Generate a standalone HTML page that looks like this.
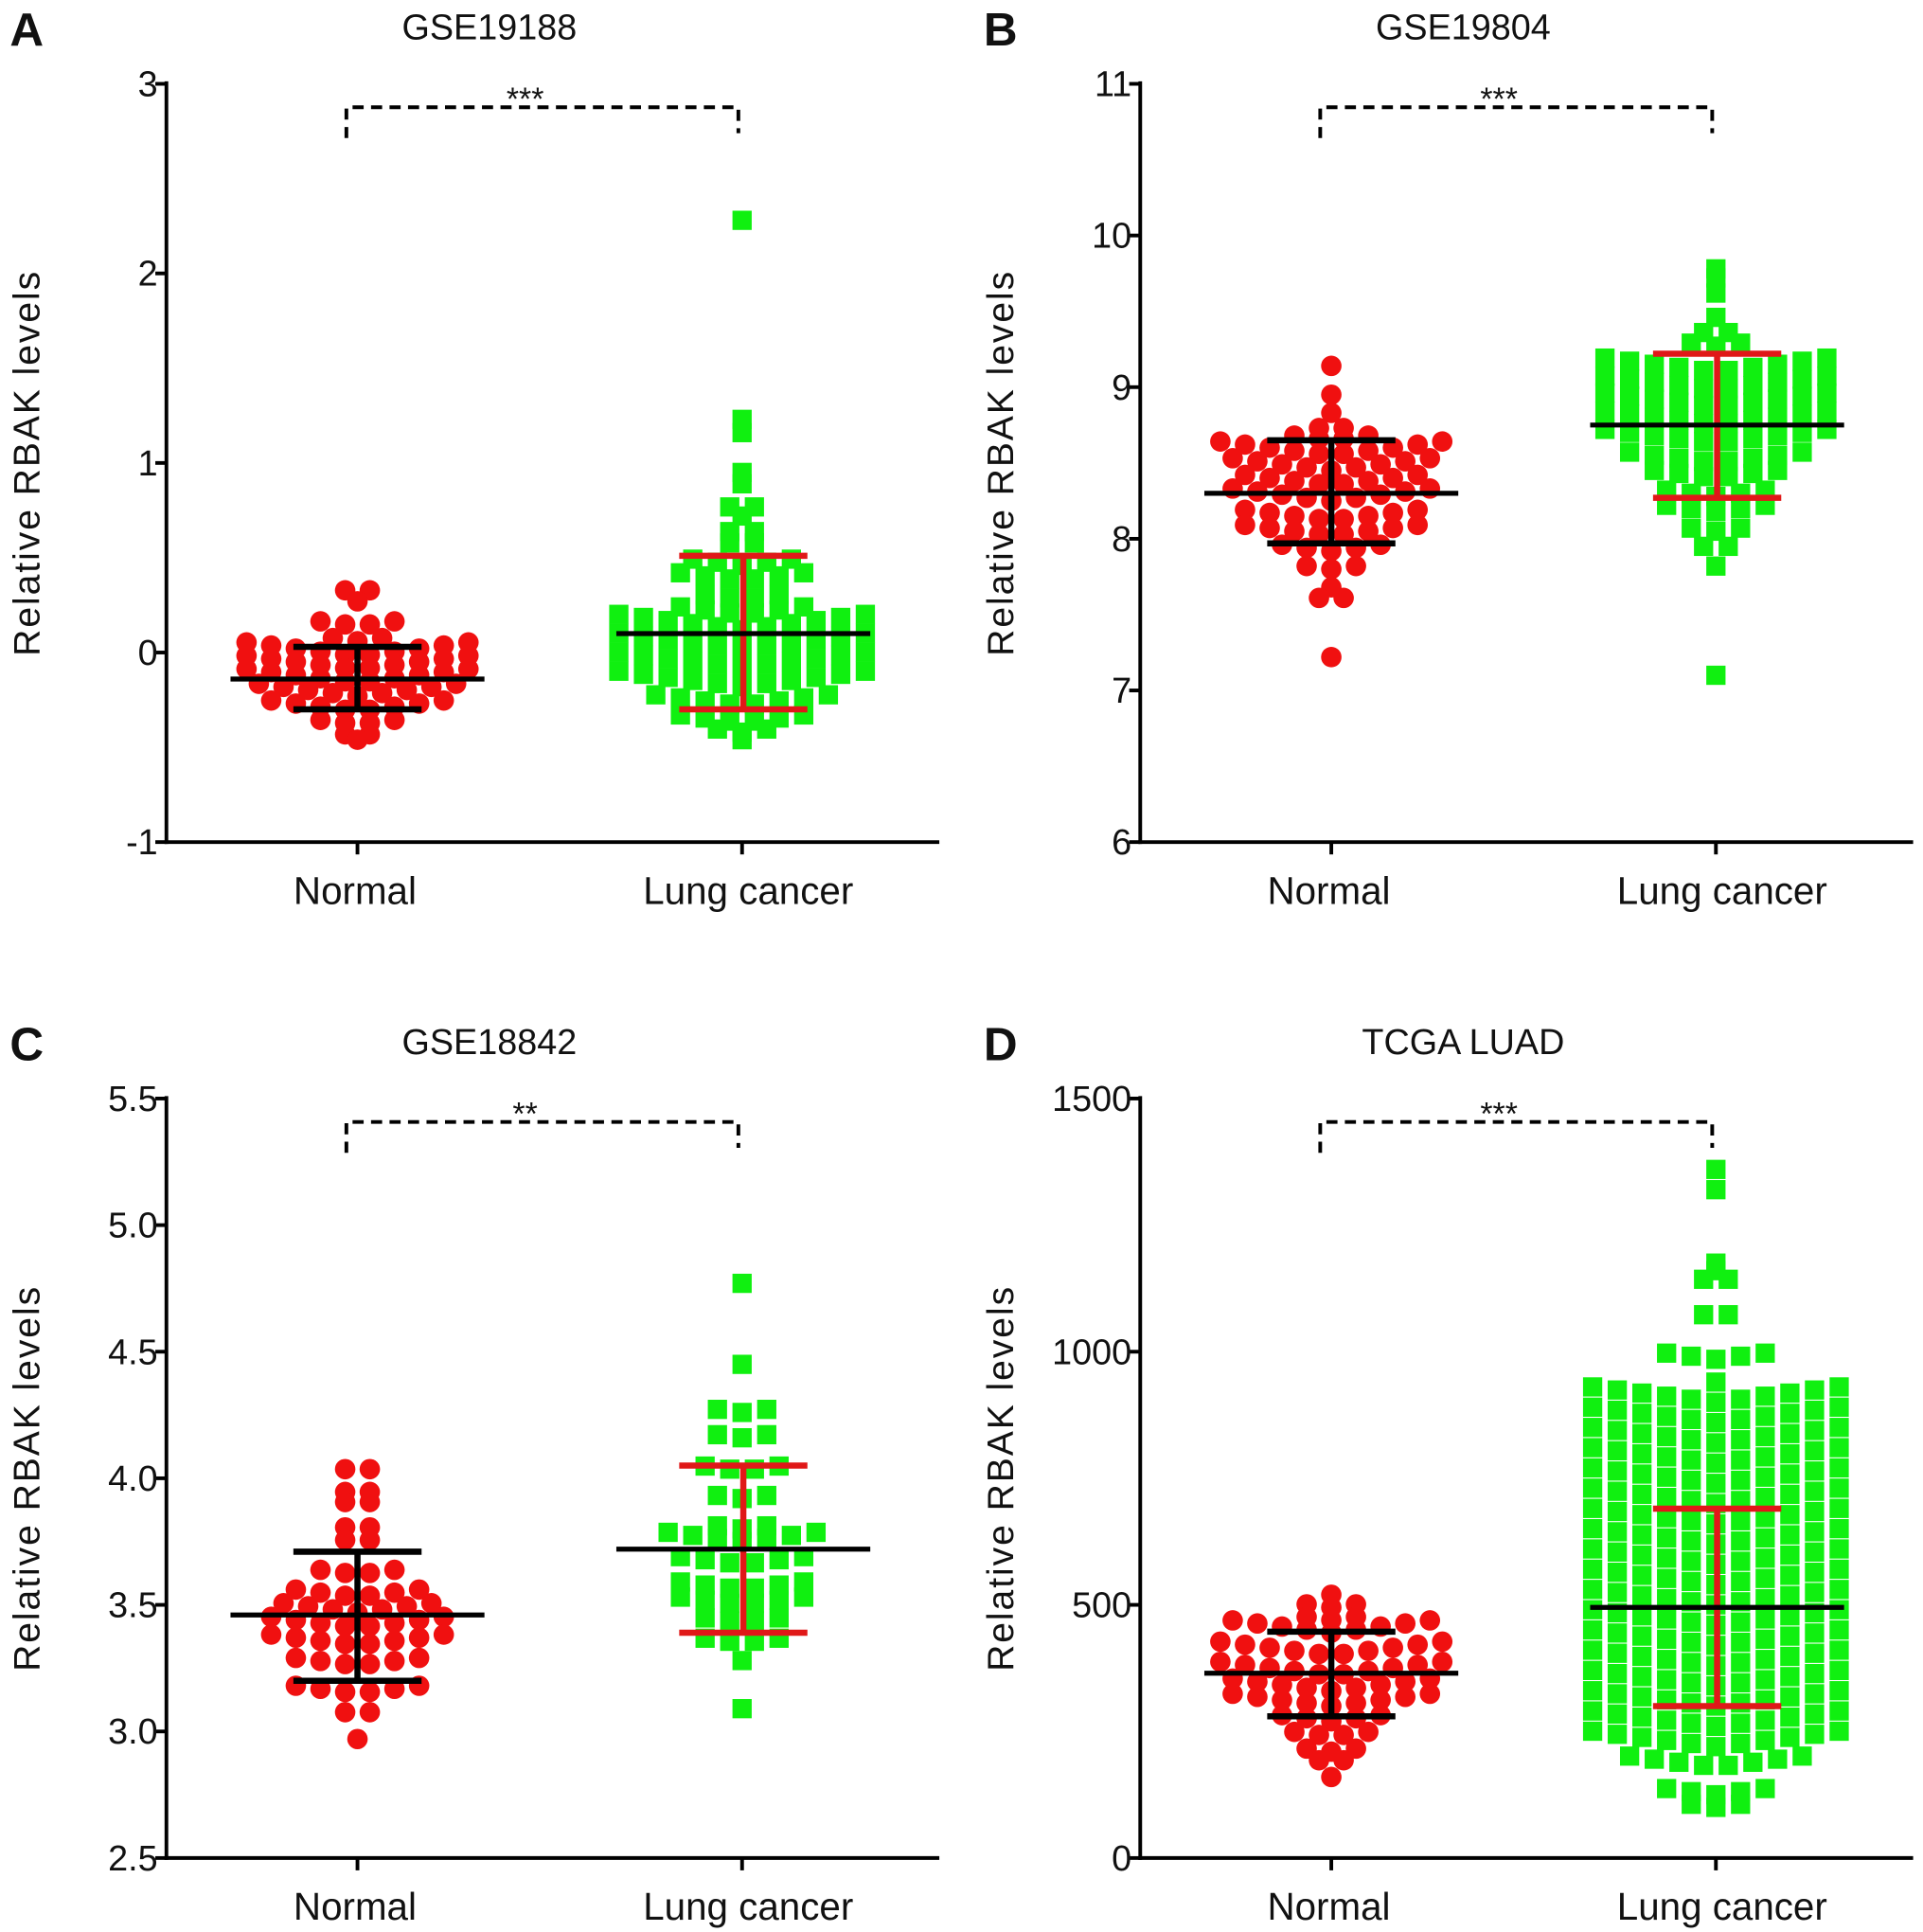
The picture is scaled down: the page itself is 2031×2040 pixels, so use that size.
<!DOCTYPE html>
<html><head><meta charset="utf-8"><style>
html,body{margin:0;padding:0;background:#fff}
svg{display:block}
text{font-family:"Liberation Sans",Arial,sans-serif;fill:#111}
</style></head><body>
<svg id="fig" width="2031" height="2040" viewBox="0 0 1560 1567" preserveAspectRatio="none" xmlns="http://www.w3.org/2000/svg"></svg>
<script>
// ---- data ----
const categories = ["Normal", "Lung cancer"];
const titles = ["GSE19188", "GSE19804", "GSE18842", "TCGA LUAD"];
const letters = ["A", "B", "C", "D"];
const sigLabels = ["***", "***", "**", "***"];
const yTicksA = [-1, 0, 1, 2, 3];
const yTicksB = [6, 7, 8, 9, 10, 11];
const yTicksC = [2.5, 3.0, 3.5, 4.0, 4.5, 5.0, 5.5];
const yTicksD = [0, 500, 1000, 1500];
const yTickLabelsC = ["2.5", "3.0", "3.5", "4.0", "4.5", "5.0", "5.5"];
// bins: [value, count]
const normalA = [[0.32,2],[0.27,1],[0.14,4],[0.06,3],[-0.02,10],[-0.09,10],[-0.16,10],[-0.23,9],[-0.31,8],[-0.38,4],[-0.44,2],[-0.46,1]];
const lungA = [[2.28,1],[1.23,1],[1.16,1],[0.95,1],[0.89,1],[0.76,2],[0.72,1],[0.63,2],[0.57,2],[0.46,5],[0.38,6],[0.28,4],[0.2,6],[0.12,11],[0.02,11],[-0.08,11],[-0.18,11],[-0.28,8],[-0.37,6],[-0.42,3],[-0.46,1]];
const normalB = [[9.14,1],[8.95,1],[8.83,1],[8.72,2],[8.65,4],[8.55,10],[8.45,9],[8.35,8],[8.25,9],[8.12,8],[8.02,8],[7.92,5],[7.8,3],[7.68,1],[7.6,2],[7.22,1]];
const lungB = [[9.78,1],[9.72,1],[9.62,1],[9.46,1],[9.35,2],[9.27,3],[9.1,10],[8.98,10],[8.87,10],[8.75,10],[8.63,10],[8.5,8],[8.4,6],[8.28,5],[8.18,5],[8.05,3],[7.94,2],[7.82,1],[7.1,1]];
const normalC = [[4.03,2],[3.94,2],[3.9,2],[3.8,2],[3.75,2],[3.62,4],[3.53,6],[3.47,7],[3.41,8],[3.34,8],[3.26,6],[3.15,6],[3.07,2],[2.97,1]];
const lungC = [[4.77,1],[4.45,1],[4.26,3],[4.16,3],[4.03,4],[3.92,3],[3.8,3],[3.75,7],[3.66,6],[3.56,6],[3.5,6],[3.43,4],[3.35,4],[3.28,1],[3.09,1]];
const normalD = [[520,1],[495,3],[470,3],[445,9],[400,10],[360,10],[330,9],[300,9],[270,5],[240,4],[210,3],[190,2],[160,1]];
const lungD = [[1360,1],[1320,1],[1175,1],[1160,1],[1140,2],[1070,2],[985,5],[940,1],[900,11],[860,11],[820,11],[780,11],[740,11],[700,11],[660,11],[620,11],[580,11],[540,11],[500,11],[460,11],[420,11],[380,11],[340,11],[300,11],[260,11],[220,11],[180,8],[125,5],[100,3]];
// stats: [mean, sdLow, sdHigh]
const statsNormal = [[-0.14,-0.3,0.03],[8.3,7.97,8.65],[3.46,3.2,3.71],[365,280,447]];
const statsLung = [[0.1,-0.3,0.51],[8.75,8.27,9.22],[3.72,3.39,4.05],[495,300,690]];

const NS = "http://www.w3.org/2000/svg";
const svg = document.getElementById("fig");
function mk(tag, attrs, parent) {
  const e = document.createElementNS(NS, tag);
  for (const k in attrs) e.setAttribute(k, attrs[k]);
  (parent || svg).appendChild(e);
  return e;
}

const panels = [
  {ax: 135, top: 68, bot: 683, right: 762, ticks: yTicksA, labels: null, n: normalA, l: lungA, min: -1, max: 3},
  {ax: 925, top: 68, bot: 683, right: 1552, ticks: yTicksB, labels: null, n: normalB, l: lungB, min: 6, max: 11},
  {ax: 135, top: 891, bot: 1507, right: 762, ticks: yTicksC, labels: yTickLabelsC, n: normalC, l: lungC, min: 2.5, max: 5.5},
  {ax: 925, top: 891, bot: 1507, right: 1552, ticks: yTicksD, labels: null, n: normalD, l: lungD, min: 0, max: 1500}
];

panels.forEach((p, i) => {
  const g = mk("g", {});
  
  
  const y = v => p.bot - (v - p.min) / (p.max - p.min) * (p.bot - p.top);
  const xc = [p.ax + 155, p.ax + 467];

  const lt = mk("text", {x: p.ax - 127, y: p.top - 31, "font-size": 38, "font-weight": "bold"}, g);
  lt.textContent = letters[i];
  
  

  const tt = mk("text", {x: p.ax + 262, y: p.top - 36, "font-size": 29, "text-anchor": "middle"}, g);
  tt.textContent = titles[i];
  
  

  const yl = mk("text", {x: 0, y: 0, "font-size": 30, "text-anchor": "middle", "letter-spacing": "1.5",
    transform: `translate(${p.ax - 103},${(p.top + p.bot) / 2}) rotate(-90)`}, g);
  yl.textContent = "Relative  RBAK  levels";
  
  

  const yax = mk("line", {x1: p.ax, y1: p.top - 2, x2: p.ax, y2: p.bot + 1.5, stroke: "#000", "stroke-width": 3}, g);
  
  
  const xax = mk("line", {x1: p.ax - 1.5, y1: p.bot, x2: p.right, y2: p.bot, stroke: "#000", "stroke-width": 3}, g);
  
  

  p.ticks.forEach((t, k) => {
    const yy = y(t);
    const tk = mk("line", {x1: p.ax - 9, y1: yy, x2: p.ax, y2: yy, stroke: "#000", "stroke-width": 3}, g);
    
    
    const tl = mk("text", {x: p.ax - 7, y: yy + 10, "font-size": 29, "text-anchor": "end"}, g);
    tl.textContent = p.labels ? p.labels[k] : String(t);
    
    
  });
  categories.forEach((c, k) => {
    const tk = mk("line", {x1: xc[k], y1: p.bot, x2: xc[k], y2: p.bot + 10, stroke: "#000", "stroke-width": 3}, g);
    
    
    const tl = mk("text", {x: xc[k] + (k ? 5 : -2), y: p.bot + 50, "font-size": 31, "text-anchor": "middle"}, g);
    tl.textContent = c;
    
    
  });

  const sp = 20;
  [p.n, p.l].forEach((bins, k) => {
    bins.forEach(([v, cnt]) => {
      for (let j = 0; j < cnt; j++) {
        const off = j - (cnt - 1) / 2;
        const px = xc[k] + off * sp;
        const py = y(v) - Math.abs(off) * 2.5;
        let m;
        if (k === 0) {
          m = mk("circle", {cx: px, cy: py, r: 8.3, fill: "#f01010"}, g);
          
        } else {
          m = mk("rect", {x: px - 7.8, y: py - 7.8, width: 15.6, height: 15.6, fill: "#10f010"}, g);
          
        }
        
      }
    });
  });

  [statsNormal[i], statsLung[i]].forEach((s, k) => {
    const col = k === 0 ? "#000" : "#e01818";
    const cx = xc[k] + (k ? 1 : 0);
    const v = mk("line", {x1: cx, y1: y(s[1]), x2: cx, y2: y(s[2]), stroke: col, "stroke-width": 5}, g);
    
    
    [s[1], s[2]].forEach(sv => {
      const c = mk("line", {x1: cx - 52, y1: y(sv), x2: cx + 52, y2: y(sv), stroke: col, "stroke-width": 5}, g);
      
      
    });
    const ml = mk("line", {x1: cx - 103, y1: y(s[0]), x2: cx + 103, y2: y(s[0]), stroke: "#000", "stroke-width": 4}, g);
    
    
  });

  const by = p.top + 19;
  const br = mk("path", {d: `M${xc[0] - 9},${by + 25} V${by} H${xc[1] - 3} V${by + 21}`, fill: "none", stroke: "#000", "stroke-width": 3, "stroke-dasharray": "9,6"}, g);
  
  
  const st = mk("text", {x: (xc[0] + xc[1]) / 2 - 20, y: by + 2, "font-size": 26, "text-anchor": "middle"}, g);
  st.textContent = sigLabels[i];
  
  
});
</script>
</body></html>
